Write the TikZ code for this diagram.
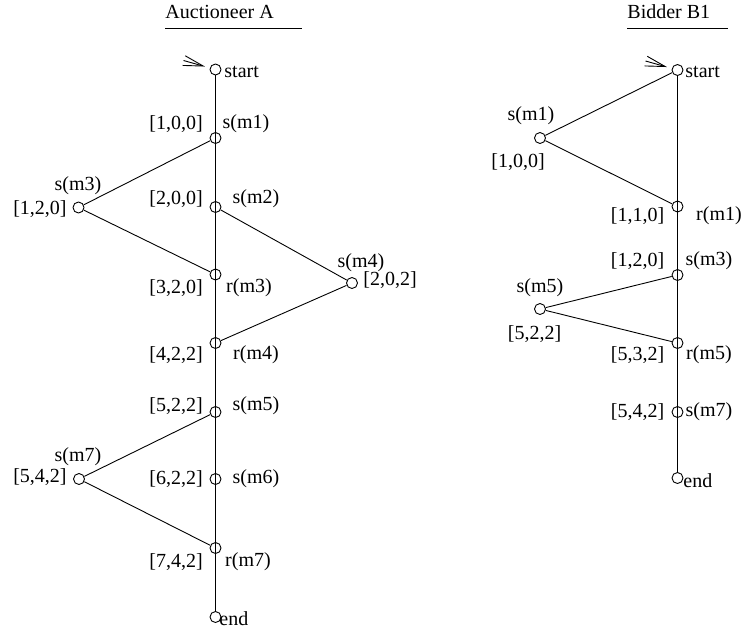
\documentclass[tikz,border=0pt]{standalone}
\usepackage{fontspec}
\setmainfont{Liberation Serif}
\usepackage{tikz}
\usetikzlibrary{arrows.meta, positioning}
\tikzset{loc/.style={circle, draw, minimum size=11pt, inner sep=0pt},
         txt/.style={inner sep=0pt},
         entry/.style={-{Straight Barb[length=20pt, width=10pt]}, shorten >=5pt}}

\begin{document}
\begin{tikzpicture}[x=1pt, y=-1pt, line width=0.9pt, font=\fontsize{20}{24}\selectfont]
\useasboundingbox (0,0) rectangle (744,633);
% titles
\node[txt, anchor=base west] (tA) at (165,18) {Auctioneer A};
\node[txt, anchor=base west] (tB) at (627,18) {Bidder B1};
\draw (165,28) -- (302,28);
\draw (627,28) -- (728,28);
% auctioneer A
\node[loc] (aStart) at (215.5,69.5) {};
\node[loc] (aM1) at (215.5,138) {};
\node[loc] (aM3) at (78.5,207.5) {};
\node[loc] (aM2) at (215.5,207) {};
\node[loc] (aR3) at (215.5,274.5) {};
\node[loc] (aM4) at (352,283) {};
\node[loc] (aR4) at (215.5,343) {};
\node[loc] (aM5) at (215.5,412) {};
\node[loc] (aM7) at (79,479) {};
\node[loc] (aM6) at (215.5,479) {};
\node[loc] (aR7) at (215.5,548) {};
\node[loc] (aEnd) at (215.5,617) {};
\node[txt, anchor=west] (aStartT) at (224,72) {start};
\node[txt] (aM1v) at (176,124) {[1,0,0]};
\node[txt] (aM1t) at (246,124) {s(m1)};
\node[txt] (aM3t) at (78,186) {s(m3)};
\node[txt] (aM3v) at (40,209) {[1,2,0]};
\node[txt] (aM2v) at (176,199) {[2,0,0]};
\node[txt] (aM2t) at (256,199) {s(m2)};
\node[txt] (aR3v) at (176,288) {[3,2,0]};
\node[txt] (aR3t) at (249,288) {r(m3)};
\node[txt] (aM4t) at (361,263) {s(m4)};
\node[txt] (aM4v) at (390,280) {[2,0,2]};
\node[txt] (aR4v) at (176,355) {[4,2,2]};
\node[txt] (aR4t) at (256,355) {r(m4)};
\node[txt] (aM5v) at (176,406) {[5,2,2]};
\node[txt] (aM5t) at (256,406) {s(m5)};
\node[txt] (aM7t) at (78,457) {s(m7)};
\node[txt] (aM7v) at (40,477) {[5,4,2]};
\node[txt] (aM6v) at (176,479) {[6,2,2]};
\node[txt] (aM6t) at (256,479) {s(m6)};
\node[txt] (aR7v) at (176,562) {[7,4,2]};
\node[txt] (aR7t) at (248,562) {r(m7)};
\node[txt, anchor=west] (aEndT) at (219,619) {end};
\coordinate (aIn) at ([shift={(-32,-9)}]aStart);
\draw[entry] (aIn) -- (aStart);
\draw (aStart) -- (aEnd);
\draw (aM1) -- (aM3) -- (aR3);
\draw (aM2) -- (aM4) -- (aR4);
\draw (aM5) -- (aM7) -- (aR7);
% bidder B1
\node[loc] (bStart) at (677.5,70) {};
\node[loc] (bM1) at (540,138) {};
\node[loc] (bR1) at (677.5,206.5) {};
\node[loc] (bM3) at (677.5,275) {};
\node[loc] (bM5) at (540,309) {};
\node[loc] (bR5) at (677.5,343) {};
\node[loc] (bM7) at (677.5,412) {};
\node[loc] (bEnd) at (677.5,478) {};
\node[txt, anchor=west] (bStartT) at (685,72) {start};
\node[txt] (bM1t) at (531,116) {s(m1)};
\node[txt] (bM1v) at (518,162) {[1,0,0]};
\node[txt] (bR1v) at (637.5,216) {[1,1,0]};
\node[txt] (bR1t) at (719,216) {r(m1)};
\node[txt] (bM3v) at (637.5,261) {[1,2,0]};
\node[txt] (bM3t) at (709,261) {s(m3)};
\node[txt] (bM5t) at (540,288) {s(m5)};
\node[txt] (bM5v) at (534.5,334) {[5,2,2]};
\node[txt] (bR5v) at (637.5,355) {[5,3,2]};
\node[txt] (bR5t) at (709,355) {r(m5)};
\node[txt] (bM7v) at (637.5,412) {[5,4,2]};
\node[txt] (bM7t) at (709,412) {s(m7)};
\node[txt, anchor=west] (bEndT) at (683,481) {end};
\coordinate (bIn) at ([shift={(-32,-9)}]bStart);
\draw[entry] (bIn) -- (bStart);
\draw (bStart) -- (bEnd);
\draw (bStart) -- (bM1) -- (bR1);
\draw (bM3) -- (bM5) -- (bR5);
\end{tikzpicture}
\end{document}
